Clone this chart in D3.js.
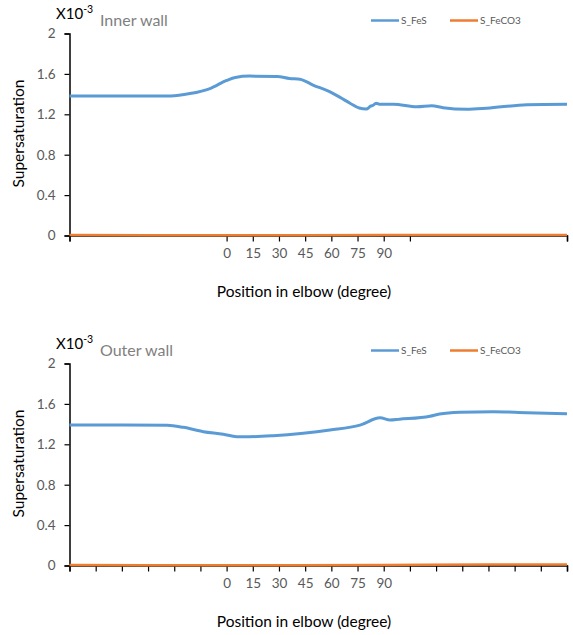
<!DOCTYPE html>
<html>
<head>
<meta charset="utf-8">
<script src="https://cdn.jsdelivr.net/npm/d3@7"></script>
<style>
  body { margin: 0; background: #fff; }
  text { font-family: Lato, "Open Sans", sans-serif; }
</style>
</head>
<body>
<svg id="chart" width="573" height="635"></svg>
<script>
// ---- data ----
const xTickValues = [-90, -75, -60, -45, -30, -15, 0, 15, 30, 45, 60, 75, 90, 105, 120, 135, 150, 165, 180, 195];
const xTickLabels = ["0", "15", "30", "45", "60", "75", "90"];
const yTicks = [0, 0.4, 0.8, 1.2, 1.6, 2];
const seriesNames = ["S_FeS", "S_FeCO3"];

const innerPos = [-90, -60, -32, -21, -9.5, 0, 5, 13, 29, 36, 42, 49.5, 59, 65, 70.7, 76, 80, 82.5, 84, 85.6, 87.5, 95.5, 109, 117.5, 124, 137.5, 149, 172, 195];
const innerFeS = [1.38, 1.38, 1.382, 1.405, 1.455, 1.535, 1.565, 1.578, 1.575, 1.555, 1.548, 1.49, 1.424, 1.368, 1.31, 1.262, 1.252, 1.28, 1.29, 1.31, 1.30, 1.30, 1.275, 1.285, 1.265, 1.25, 1.26, 1.295, 1.30];
const innerFeCO3Pos = [-90, 0, 90, 195];
const innerFeCO3 = [0.004, 0.003, 0.004, 0.004];

const outerPos = [-90, -60, -34, -24.8, -13.3, -1.9, 5.8, 13, 26.7, 43.9, 59.2, 76.4, 87.9, 93.6, 99, 116.5, 122, 133.7, 152.8, 172, 195];
const outerFeS = [1.39, 1.39, 1.388, 1.368, 1.325, 1.30, 1.275, 1.275, 1.285, 1.31, 1.342, 1.39, 1.462, 1.44, 1.448, 1.478, 1.50, 1.517, 1.523, 1.513, 1.503];
const outerFeCO3Pos = [-90, 0, 90, 150, 195];
const outerFeCO3 = [0.004, 0.003, 0.005, 0.009, 0.009];

const panels = [
  { title: "Inner wall", top: 33.5, pos: innerPos, fes: innerFeS, co3Pos: innerFeCO3Pos, co3: innerFeCO3, allTicks: false },
  { title: "Outer wall", top: 363.5, pos: outerPos, fes: outerFeS, co3Pos: outerFeCO3Pos, co3: outerFeCO3, allTicks: true }
];

const colors = ["#5B9BD5", "#ED7D31"];
const svg = d3.select("#chart");
const left = 69.5, right = 567, plotH = 202;

const x = d3.scaleLinear().domain([-90, 195]).range([left, right]);

panels.forEach(p => {
  const y = d3.scaleLinear().domain([0, 2]).range([p.top + plotH, p.top]);
  const g = svg.append("g");

  // y axis
  const yAxis = d3.axisLeft(y).tickValues(yTicks).tickSize(5).tickPadding(9)
    .tickFormat(d => d === 0 || d === 2 ? String(d) : d3.format(".1f")(d));
  const ya = g.append("g").attr("transform", `translate(${left},0)`).call(yAxis);
  ya.select(".domain").attr("stroke", "#000").attr("stroke-width", 1.5);
  ya.selectAll(".tick line").attr("stroke", "#000").attr("stroke-width", 1.2);
  ya.selectAll(".tick text").attr("fill", "#595959").attr("font-size", 13.5)
    .style("font-family", "Lato, 'Open Sans', sans-serif");

  // x axis
  const tv = p.allTicks ? xTickValues : xTickValues.filter(v => v === -90 || v === 195 || (v >= 0 && v <= 105));
  const xAxis = d3.axisBottom(x).tickValues(tv).tickSize(6).tickPadding(7)
    .tickFormat(d => xTickLabels.includes(String(d)) ? String(d) : "");
  const xa = g.append("g").attr("transform", `translate(0,${p.top + plotH})`).call(xAxis);
  xa.select(".domain").attr("stroke", "#000").attr("stroke-width", 1.5);
  xa.selectAll(".tick line").attr("stroke", "#000").attr("stroke-width", 1.2);
  xa.selectAll(".tick text").attr("fill", "#595959").attr("font-size", 13.5)
    .style("font-family", "Lato, 'Open Sans', sans-serif");

  // lines
  const line = d3.line().x(d => x(d[0])).y(d => y(d[1])).curve(d3.curveMonotoneX);
  g.append("path").datum(d3.zip(p.co3Pos, p.co3)).attr("d", line)
    .attr("fill", "none").attr("stroke", colors[1]).attr("stroke-width", 2.5);
  g.append("path").datum(d3.zip(p.pos, p.fes)).attr("d", line)
    .attr("fill", "none").attr("stroke", colors[0]).attr("stroke-width", 3)
    .attr("stroke-linejoin", "round");

  // multiplier label
  const mult = g.append("text").attr("x", 56).attr("y", p.top - 15)
    .attr("font-size", 15).attr("fill", "#000");
  mult.append("tspan").text("X10");
  mult.append("tspan").attr("dy", -6).attr("font-size", 10.5).text("-3");

  // panel title
  g.append("text").attr("x", 100).attr("y", p.top - 7.5)
    .attr("font-size", 16).attr("fill", "#7f7f7f").text(p.title);

  // legend
  const lg = g.append("g").attr("transform", `translate(0,${p.top - 13})`);
  [[371, 399, 401], [450, 478, 480]].forEach((c, i) => {
    lg.append("line").attr("x1", c[0]).attr("x2", c[1]).attr("y1", 0).attr("y2", 0)
      .attr("stroke", colors[i]).attr("stroke-width", 2.5);
    lg.append("text").attr("x", c[2]).attr("y", 3.5).attr("font-size", 10)
      .attr("fill", "#595959").text(seriesNames[i]);
  });

  // axis titles
  g.append("text").attr("transform", `translate(24,${p.top + 100}) rotate(-90)`)
    .attr("text-anchor", "middle").attr("font-size", 15.5).attr("fill", "#000")
    .text("Supersaturation");
  g.append("text").attr("x", 304).attr("y", p.top + plotH + 61)
    .attr("text-anchor", "middle").attr("font-size", 15.5).attr("fill", "#000")
    .text("Position in elbow (degree)");
});
</script>
</body>
</html>
